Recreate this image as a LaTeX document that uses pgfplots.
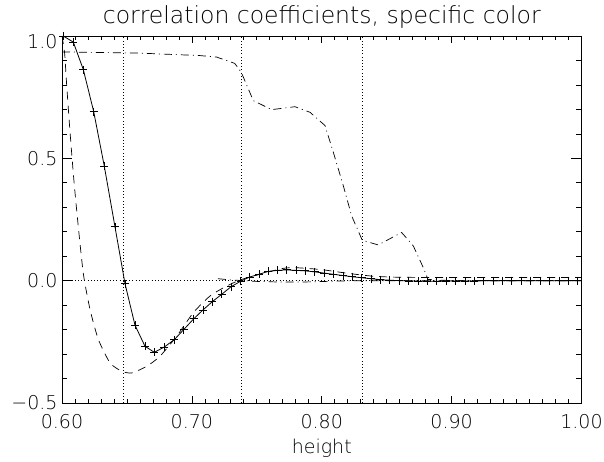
\documentclass[border=0pt]{standalone}
\usepackage{fontspec}
\setmainfont{DejaVu Sans ExtraLight}
\usepackage{pgfplots}
\pgfplotsset{compat=1.18}

\begin{document}
\begin{tikzpicture}
\begin{axis}[
  scale only axis, width=519.5pt, height=367pt,
  xmin=0.6, xmax=1.0, ymin=-0.5, ymax=1.0,
  xtick={0.6,0.7,0.8,0.9,1.0}, xticklabels={0.60,0.70,0.80,0.90,1.00},
  ytick={-0.5,0,0.5,1.0}, yticklabels={−0.5,0.0,0.5,\raisebox{-13pt}[0pt][0pt]{1.0}},
  minor x tick num=9, minor y tick num=4,
  tick align=inside,
  axis line style={line width=0.9pt},
  every tick/.style={black, line width=0.7pt},
  major tick length=10.4pt, minor tick length=5.2pt,
  major x tick style={/pgfplots/major tick length=7.3pt},
  minor x tick style={/pgfplots/minor tick length=3.7pt},
  tick label style={font=\fontsize{19}{22}\selectfont},
  xticklabel style={yshift=-8pt},
  yticklabel style={xshift=-1pt},
  title={correlation coefficients, specific color},
  title style={font=\fontsize{23.5}{26}\selectfont, yshift=-2pt},
  xlabel={height},
  xlabel style={font=\fontsize{19}{22}\selectfont, yshift=-3pt},
]
% vertical and horizontal dotted guides
\addplot[black, line width=0.6pt, dash pattern=on 0.8pt off 2.4pt] coordinates {(0.647,-0.5) (0.647,1.0)};
\addplot[black, line width=0.6pt, dash pattern=on 0.8pt off 2.4pt] coordinates {(0.738,-0.5) (0.738,1.0)};
\addplot[black, line width=0.6pt, dash pattern=on 0.8pt off 2.4pt] coordinates {(0.831,-0.5) (0.831,1.0)};
\addplot[black, line width=0.6pt, dash pattern=on 0.8pt off 2.4pt] coordinates {(0.6,0) (1.0,0)};

% solid with + markers
\addplot[black, line width=0.8pt, mark=+, mark size=4pt, mark options={line width=0.8pt}] coordinates {
(0.6010,1.000) (0.6087,0.975) (0.6164,0.863) (0.6244,0.691) (0.6326,0.467)
(0.6408,0.220) (0.6485,-0.012) (0.6562,-0.182) (0.6639,-0.268) (0.6711,-0.293)
(0.6788,-0.271) (0.6865,-0.241) (0.6937,-0.200) (0.7014,-0.156) (0.7085,-0.120)
(0.7157,-0.086) (0.7229,-0.056) (0.7301,-0.025) (0.7376,-0.002) (0.7445,0.015)
(0.7517,0.026) (0.7588,0.038) (0.7660,0.042) (0.7730,0.044) (0.7801,0.042)
(0.7873,0.040) (0.7946,0.036) (0.8018,0.031) (0.8090,0.026) (0.8163,0.021)
(0.8235,0.016) (0.8307,0.012) (0.8380,0.008) (0.8452,0.004) (0.8524,0.002)
(0.8596,0.000) (0.8669,-0.001) (0.8741,-0.002) (0.8813,-0.002) (0.8886,-0.002)
(0.8958,-0.002) (0.9030,-0.001) (0.9103,-0.001) (0.9175,-0.001) (0.9247,0.000)
(0.9319,0.000) (0.9392,0.000) (0.9464,0.000) (0.9536,0.000) (0.9609,0.000)
(0.9681,0.000) (0.9753,0.000) (0.9826,0.000) (0.9898,0.000) (0.9970,0.000)
};

% dashed
\addplot[black, line width=0.7pt, dash pattern=on 8pt off 6pt, smooth, tension=0.4] coordinates {
(0.600,1.00) (0.602,0.93) (0.6036,0.80) (0.606,0.62) (0.609,0.42) (0.612,0.25)
(0.6164,0.03) (0.6216,-0.118) (0.628,-0.24) (0.637,-0.336) (0.646,-0.370)
(0.6537,-0.377) (0.6652,-0.350) (0.6754,-0.309) (0.6883,-0.227) (0.7011,-0.131)
(0.7139,-0.063) (0.7268,-0.022) (0.7383,0.005) (0.755,0.030) (0.770,0.050)
(0.780,0.053) (0.800,0.045) (0.820,0.030) (0.840,0.018) (0.860,0.014)
(0.900,0.013) (1.000,0.013)
};

% dash-dot (upper)
\addplot[black, line width=0.7pt, dash pattern=on 8pt off 4pt on 1pt off 4pt] coordinates {
(0.600,0.935) (0.660,0.930) (0.706,0.920) (0.719,0.914) (0.733,0.888) (0.738,0.852)
(0.7473,0.736) (0.7614,0.699) (0.7794,0.711) (0.791,0.688) (0.8025,0.634)
(0.8089,0.525) (0.8166,0.388) (0.823,0.265) (0.8312,0.165) (0.8435,0.146)
(0.8615,0.197) (0.8705,0.142) (0.8782,0.053) (0.8818,0.005) (0.900,0.000) (1.000,0.000)
};

% dash-dot (near zero)
\addplot[black, line width=0.7pt, dash pattern=on 8pt off 4pt on 1pt off 4pt] coordinates {
(0.720,0.008) (0.730,0.003) (0.750,-0.003) (0.770,-0.006) (0.790,-0.005)
(0.810,-0.002) (0.830,0.000) (0.880,0.000) (1.000,0.000)
};
\end{axis}
\pgfresetboundingbox
\path[use as bounding box] ([shift={(-62pt,-59pt)}]current axis.south west) rectangle ([shift={(22.5pt,36pt)}]current axis.north east);
\end{tikzpicture}
\end{document}
